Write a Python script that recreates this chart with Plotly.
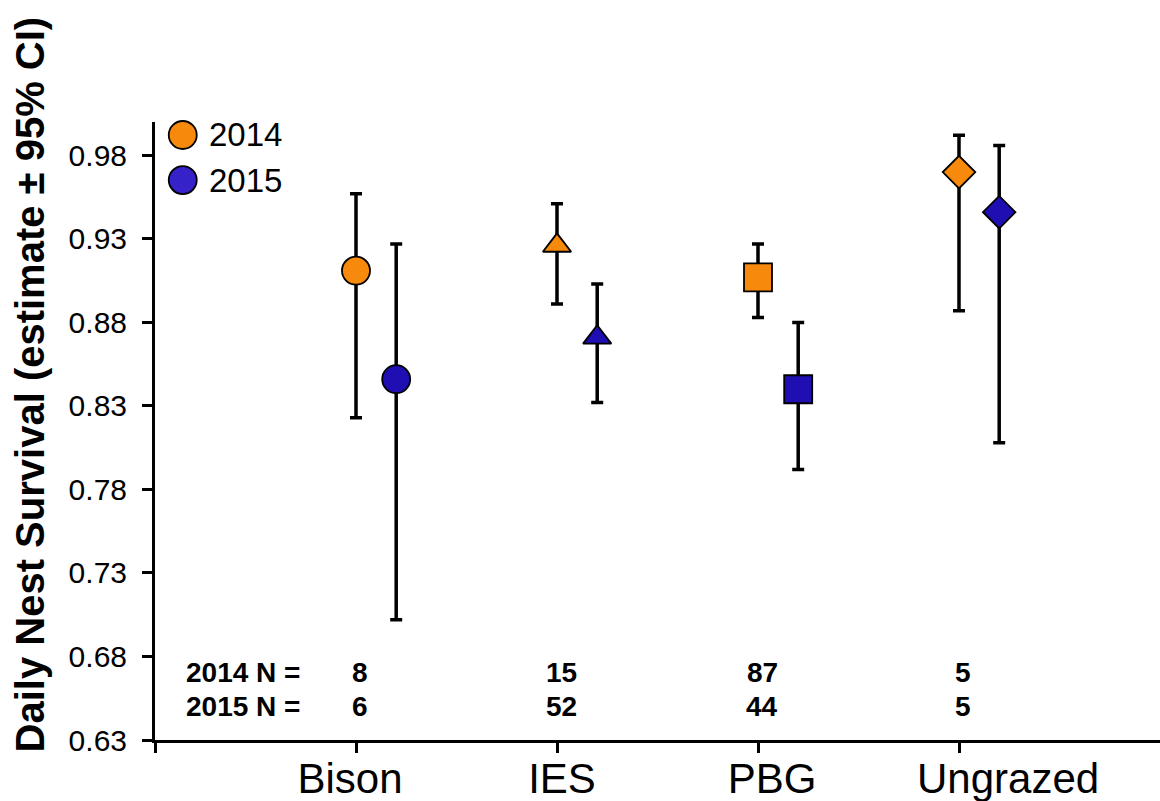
import plotly.graph_objects as go

# ---------------- data ----------------
categories = ["Bison", "IES", "PBG", "Ungrazed"]
cat_pos = [1, 2, 3, 4]
years = ["2014", "2015"]

est_2014 = [0.911, 0.926, 0.907, 0.970]
lo_2014 = [0.823, 0.891, 0.883, 0.887]
hi_2014 = [0.957, 0.951, 0.927, 0.992]

est_2015 = [0.846, 0.871, 0.840, 0.946]
lo_2015 = [0.702, 0.832, 0.792, 0.808]
hi_2015 = [0.927, 0.903, 0.880, 0.986]

n_2014 = [8, 15, 87, 5]
n_2015 = [6, 52, 44, 5]

y_ticks = [0.63, 0.68, 0.73, 0.78, 0.83, 0.88, 0.93, 0.98]

# ---------------- style ----------------
FONT = "Arial, Liberation Sans, sans-serif"
ORANGE = "#F7890C"
BLUE = "#1F0FB3"
BLUE_LEG = "#3522C8"
symbols = ["circle", "triangle-up", "square", "diamond"]
sizes = [28, 24.5, 28, 25]
offset_2015 = 0.2

fig = go.Figure()

for yr, est, lo, hi, color, dx in [
    ("2014", est_2014, lo_2014, hi_2014, ORANGE, 0.0),
    ("2015", est_2015, lo_2015, hi_2015, BLUE, offset_2015),
]:
    fig.add_trace(go.Scatter(
        x=[p + dx for p in cat_pos],
        y=est,
        mode="markers",
        name=yr,
        showlegend=False,
        marker=dict(symbol=symbols, size=sizes, color=color, opacity=1,
                    line=dict(color="black", width=1.8)),
        error_y=dict(type="data", symmetric=False,
                     array=[h - e for h, e in zip(hi, est)],
                     arrayminus=[e - l for e, l in zip(est, lo)],
                     color="black", thickness=3.5, width=6),
        cliponaxis=False,
    ))

# label positions for category names (as in original text boxes)
label_x = [0.97, 2.025, 3.07, 4.244]

fig.update_layout(
    width=1160, height=801,
    margin=dict(l=155, r=0, t=122, b=61),
    paper_bgcolor="white", plot_bgcolor="white",
    font=dict(family=FONT, color="black"),
    xaxis=dict(range=[0, 5], showgrid=False, zeroline=False,
               showline=True, linecolor="black", linewidth=3,
               tickvals=label_x, ticktext=categories, ticks="",
               tickfont=dict(size=42, family=FONT, color="black"),
               minor=dict(tickvals=[0] + cat_pos, ticks="outside", ticklen=10,
                          tickwidth=3, tickcolor="black", showgrid=False)),
    yaxis=dict(range=[0.63, 1.0], showgrid=False, zeroline=False,
               showline=True, linecolor="black", linewidth=3,
               tickvals=y_ticks, tickformat=".2f", ticks="outside",
               ticklen=10, tickwidth=3, tickcolor="black",
               ticklabelstandoff=9,
               tickfont=dict(size=30, family=FONT, color="black")),
)

annotations = []
# y-axis title
annotations.append(dict(
    text="<b>Daily Nest Survival (estimate ± 95% CI)</b>",
    xref="paper", yref="paper", x=-0.124, y=0.576,
    textangle=-90, showarrow=False, xanchor="center", yanchor="middle",
    font=dict(size=40, family=FONT, color="black")))

# sample sizes
row_y = [0.110, 0.054]
for ry, yr, ns in [(row_y[0], "2014", n_2014), (row_y[1], "2015", n_2015)]:
    annotations.append(dict(
        text=f"<b>{yr}\u00a0N\u00a0=</b>", xref="paper", yref="paper",
        x=0.029, y=ry, xanchor="left", yanchor="middle", showarrow=False,
        font=dict(size=28, family=FONT, color="black")))
    for p, n in zip(cat_pos, ns):
        annotations.append(dict(
            text=f"<b>{n}</b>", xref="x", yref="paper", x=p + 0.02, y=ry,
            xanchor="center", yanchor="middle", showarrow=False,
            font=dict(size=28, family=FONT, color="black")))

# custom legend (large markers)
leg_y = [0.979, 0.906]
leg_colors = [ORANGE, BLUE_LEG]
shapes = []
for yr, ly, c in zip(years, leg_y, leg_colors):
    shapes.append(dict(type="circle", xref="paper", yref="paper",
                       xsizemode="pixel", ysizemode="pixel",
                       xanchor=0.0276, yanchor=ly,
                       x0=-14, x1=14, y0=-14, y1=14,
                       fillcolor=c, line=dict(color="black", width=1.8)))
    annotations.append(dict(text=yr, xref="paper", yref="paper",
                            x=0.052, y=ly, xanchor="left", yanchor="middle",
                            showarrow=False,
                            font=dict(size=33, family=FONT, color="black")))

fig.update_layout(annotations=annotations, shapes=shapes)

fig.write_html("out.html")
